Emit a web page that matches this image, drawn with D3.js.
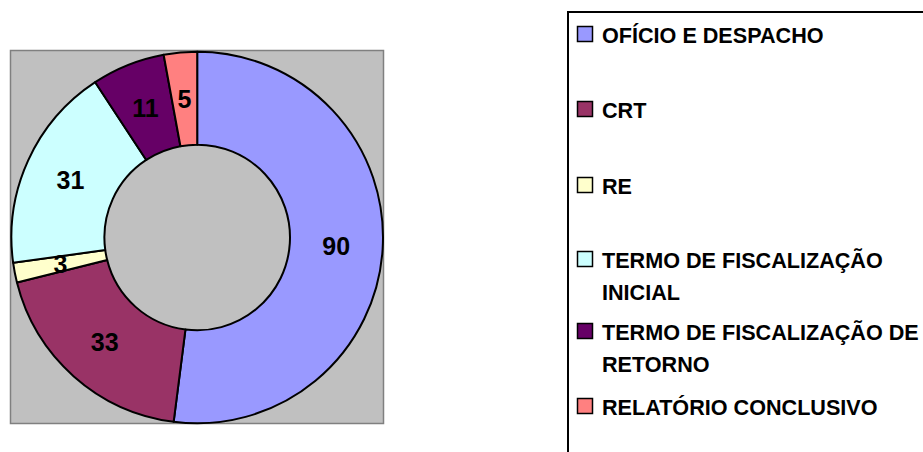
<!DOCTYPE html>
<html>
<head>
<meta charset="utf-8">
<script src="https://cdn.jsdelivr.net/npm/d3@7"></script>
<style>
  html, body { margin: 0; padding: 0; background: #fff; overflow: hidden; }
  svg { display: block; }
</style>
</head>
<body>
<div id="chart"></div>
<script>
// ---- Data ----
const categories = [
  'OFÍCIO E DESPACHO',
  'CRT',
  'RE',
  'TERMO DE FISCALIZAÇÃO INICIAL',
  'TERMO DE FISCALIZAÇÃO DE RETORNO',
  'RELATÓRIO CONCLUSIVO'
];
const values = [90, 33, 3, 31, 11, 5];
// legend text broken into lines as in the original
const legendLines = [
  ['OFÍCIO E DESPACHO'],
  ['CRT'],
  ['RE'],
  ['TERMO DE FISCALIZAÇÃO', 'INICIAL'],
  ['TERMO DE FISCALIZAÇÃO DE', 'RETORNO'],
  ['RELATÓRIO CONCLUSIVO']
];
const colors = ['#9999FF', '#993366', '#FFFFCC', '#CCFFFF', '#660066', '#FF8080'];

const W = 923, H = 452;
const FONT = '"Liberation Sans", Arial, sans-serif';

const svg = d3.select('#chart').append('svg')
  .attr('width', W)
  .attr('height', H);

// ---- Plot area ----
const plot = { x: 10.5, y: 50.5, w: 373, h: 373 };
svg.append('rect')
  .attr('x', plot.x).attr('y', plot.y)
  .attr('width', plot.w).attr('height', plot.h)
  .attr('fill', '#C0C0C0')
  .attr('stroke', '#808080')
  .attr('stroke-width', 1.5);

const cx = 197.2, cy = 237.5;
const outerR = 185.8, innerR = 92.8;

const color = d3.scaleOrdinal().domain(categories).range(colors);

const pie = d3.pie().sort(null).value(d => d.value);
const arcs = pie(categories.map((c, i) => ({ name: c, value: values[i] })));

const arc = d3.arc().innerRadius(innerR).outerRadius(outerR);

const g = svg.append('g').attr('transform', `translate(${cx},${cy})`);

g.selectAll('path')
  .data(arcs)
  .join('path')
  .attr('d', arc)
  .attr('fill', d => color(d.data.name))
  .attr('stroke', '#000')
  .attr('stroke-width', 2)
  .attr('stroke-linejoin', 'round');

// data labels at slice centroids
g.selectAll('text')
  .data(arcs)
  .join('text')
  .attr('transform', d => `translate(${arc.centroid(d)})`)
  .attr('text-anchor', 'middle')
  .attr('dy', '0.36em')
  .attr('font-family', FONT)
  .attr('font-weight', 700)
  .attr('font-size', '25px')
  .attr('fill', '#000')
  .text(d => d.data.value);

// ---- Legend ----
svg.append('rect')
  .attr('x', 568).attr('y', 12)
  .attr('width', 400).attr('height', 460)
  .attr('fill', '#fff')
  .attr('stroke', '#000')
  .attr('stroke-width', 2);

const baselines = [43, 118, 194, 268, 340, 415];
const lineGap = 32;

const item = svg.append('g')
  .selectAll('g')
  .data(categories)
  .join('g')
  .attr('transform', (d, i) => `translate(0,${baselines[i]})`);

item.append('rect')
  .attr('x', 577.5).attr('y', -16.5)
  .attr('width', 15).attr('height', 15)
  .attr('fill', d => color(d))
  .attr('stroke', '#000')
  .attr('stroke-width', 1.5);

item.append('text')
  .attr('x', 602)
  .attr('font-family', FONT)
  .attr('font-weight', 700)
  .attr('font-size', '21.6px')
  .attr('fill', '#000')
  .selectAll('tspan')
  .data((d, i) => legendLines[i])
  .join('tspan')
  .attr('x', 602)
  .attr('y', (d, j) => j * lineGap)
  .text(d => d);
</script>
</body>
</html>
